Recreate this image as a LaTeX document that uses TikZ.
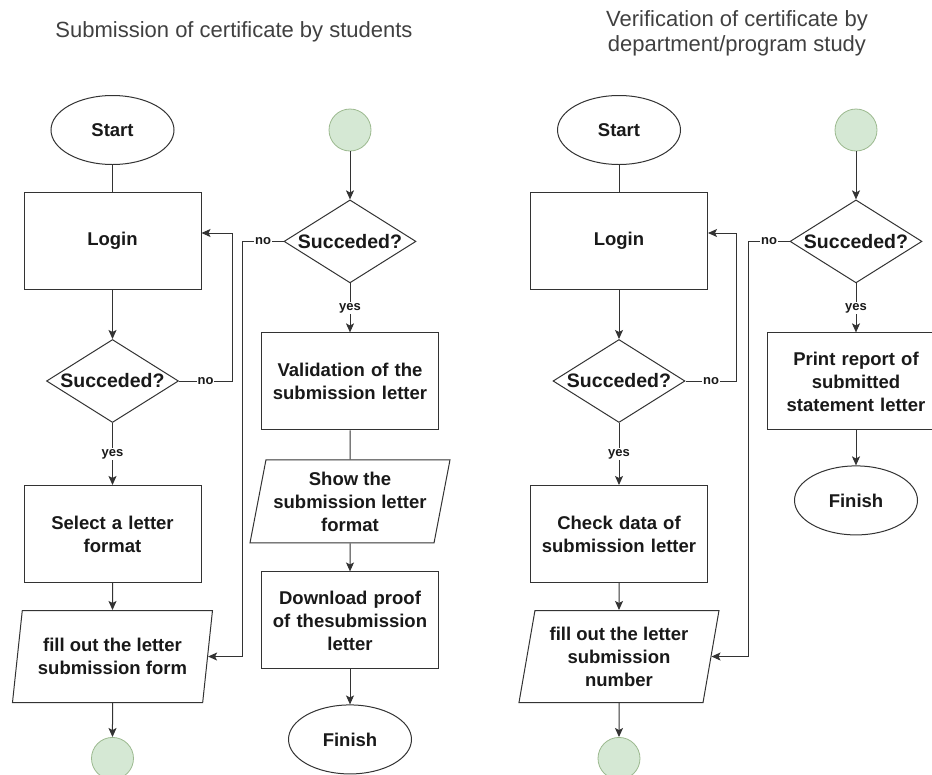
\documentclass[tikz,border=0pt]{standalone}
\usepackage{fontspec}
\setmainfont{Liberation Sans}
\usepackage{xcolor}
\usepackage{tikz}
\usetikzlibrary{shapes.geometric}
\usetikzlibrary{arrows.meta}
\usetikzlibrary{positioning}

\definecolor{connfill}{HTML}{D5E8D4}
\definecolor{connline}{HTML}{9CB98F}
\definecolor{linea}{HTML}{333333}

\tikzset{
  base/.style={draw=linea, line width=1pt, fill=white, inner sep=0pt,
    font=\fontsize{18.5}{23}\selectfont\bfseries, text=black!90},
  terminal/.style={base, ellipse, minimum width=123pt, minimum height=69pt},
  proc/.style={base, rectangle, minimum width=177pt, minimum height=97pt,
    text width=175pt, align=center},
  dec/.style={base, diamond, minimum width=132pt, minimum height=83pt,
    font=\fontsize{19.5}{23}\selectfont\bfseries},
  io/.style={base, trapezium, trapezium left angle=75, trapezium right angle=105,
    trapezium stretches body, minimum width=200pt, minimum height=92pt,
    align=center},
  conn/.style={circle, draw=connline, fill=connfill, line width=0.8pt,
    minimum size=42pt, inner sep=0pt},
  lin/.style={draw=linea, line width=1pt},
  arr/.style={lin, -{Stealth[length=9pt,width=8pt,inset=2pt]}},
  lbl/.style={fill=white, inner sep=1pt, font=\fontsize{13}{15}\selectfont\bfseries,
    text=black!90},
  titulo/.style={font=\fontsize{22}{25}\selectfont, text=black!75, align=center}
}

\begin{document}
\begin{tikzpicture}[x=1pt,y=-1pt]
  \useasboundingbox (0,0) rectangle (932,774);

  % Titulos
  \node[titulo] (tit1) at (234,32) {Submission of certificate by students};
  \node[titulo] (tit2) at (737,33) {Verification of certificate by\\department/program study};

  % Diagrama 1: columna izquierda
  \node[terminal] (start1) at (112.5,130) {Start};
  \node[proc, below=27pt of start1] (login1) {Login};
  \node[dec, below=49pt of login1] (succ1) {\makebox[0pt]{Succeded?}};
  \node[proc, below=62pt of succ1] (select1) {Select a letter\\format};
  \node[io, below=27pt of select1] (fill1) {fill out the letter\\submission form};
  \node[conn, below=34pt of fill1] (out1) {};

  % Diagrama 1: columna derecha
  \node[conn] (in1) at (350,130) {};
  \node[dec, below=48pt of in1] (succ2) {\makebox[0pt]{Succeded?}};
  \node[proc, below=49pt of succ2] (valid) {Validation of the\\submission letter};
  \node[io, below=29pt of valid, minimum height=83pt] (show) {Show the\\submission letter\\format};
  \node[proc, below=28pt of show] (download) {Download proof\\of thesubmission\\letter};
  \node[terminal, below=35pt of download] (finish1) {Finish};

  % Diagrama 2: columna izquierda
  \node[terminal] (start2) at (619,130) {Start};
  \node[proc, below=27pt of start2] (login2) {Login};
  \node[dec, below=49pt of login2] (succ3) {\makebox[0pt]{Succeded?}};
  \node[proc, below=62pt of succ3] (check) {Check data of\\submission letter};
  \node[io, below=27pt of check] (fill2) {fill out the letter\\submission\\number};
  \node[conn, below=34pt of fill2] (out2) {};

  % Diagrama 2: columna derecha
  \node[conn] (in2) at (856,130) {};
  \node[dec, below=48pt of in2] (succ4) {\makebox[0pt]{Succeded?}};
  \node[proc, below=49pt of succ4] (print) {Print report of\\submitted\\statement letter};
  \node[terminal, below=35pt of print] (finish2) {Finish};

  % Conexiones diagrama 1
  \draw[lin] (start1) -- (login1);
  \draw[arr] (login1) -- (succ1);
  \draw[arr] (succ1) -- node[lbl] {yes} (select1);
  \draw[arr] (select1) -- (fill1);
  \draw[arr] (fill1) -- (out1);
  \draw[arr] (succ1.east) -- node[lbl] {no} ++(53,0) |- ([yshift=8pt]login1.east);
  \draw[arr] (in1) -- (succ2);
  \draw[arr] (succ2) -- node[lbl] {yes} (valid);
  \draw[lin] (valid) -- (show);
  \draw[arr] (show) -- (download);
  \draw[arr] (download) -- (finish1);
  \draw[arr] (succ2.west) -- node[lbl] {no} ++(-41,0) |- (fill1.east);

  % Conexiones diagrama 2
  \draw[lin] (start2) -- (login2);
  \draw[arr] (login2) -- (succ3);
  \draw[arr] (succ3) -- node[lbl] {yes} (check);
  \draw[arr] (check) -- (fill2);
  \draw[arr] (fill2) -- (out2);
  \draw[arr] (succ3.east) -- node[lbl] {no} ++(51,0) |- ([yshift=8pt]login2.east);
  \draw[arr] (in2) -- (succ4);
  \draw[arr] (succ4) -- node[lbl] {yes} (print);
  \draw[arr] (print) -- (finish2);
  \draw[arr] (succ4.west) -- node[lbl] {no} ++(-41,0) |- (fill2.east);
\end{tikzpicture}
\end{document}
